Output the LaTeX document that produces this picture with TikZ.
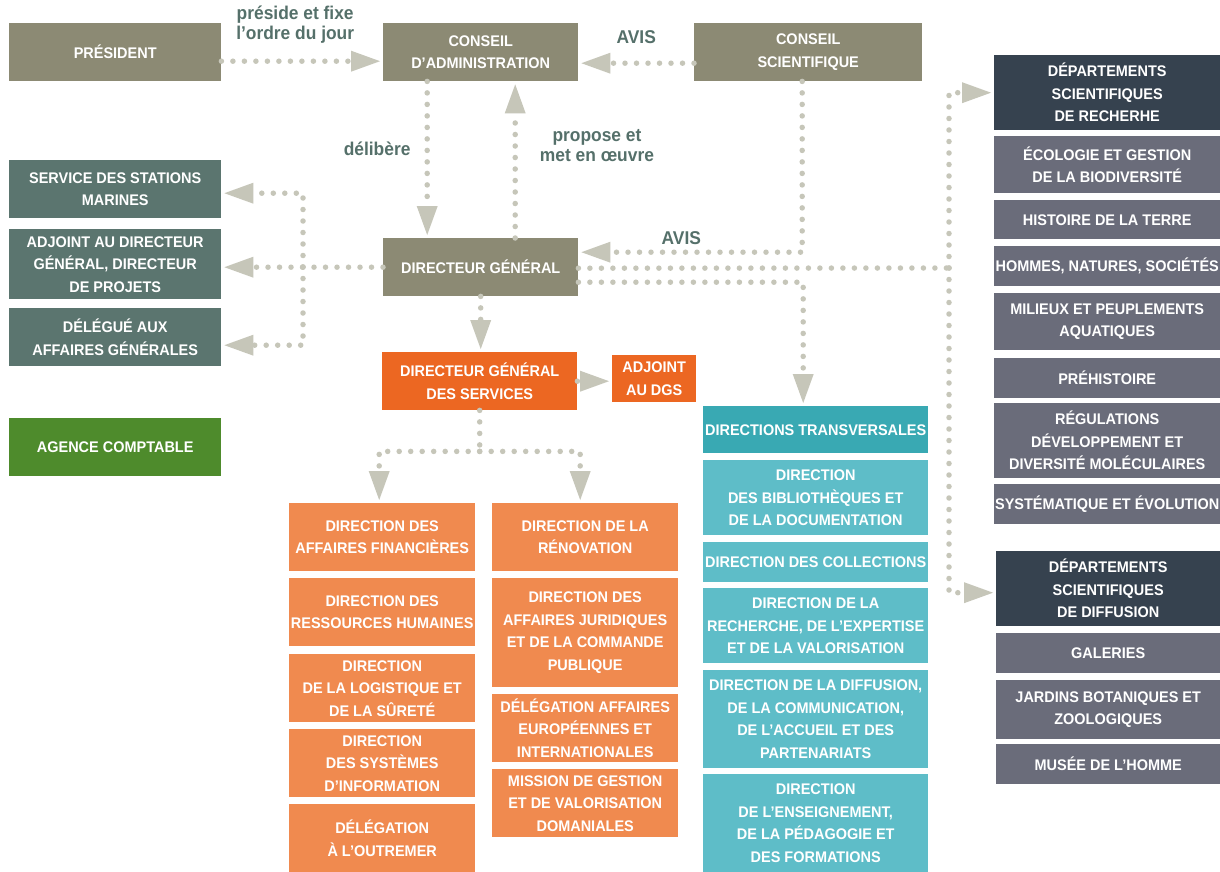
\documentclass[tikz,border=0pt]{standalone}
\usepackage{fontspec}
\setmainfont{Liberation Sans}[FakeStretch=0.94]
\usepackage{tikz}
\usetikzlibrary{arrows.meta,calc,positioning}

\definecolor{boxolive}{HTML}{8C8A74}
\definecolor{boxslate}{HTML}{5B756F}
\definecolor{boxgreen}{HTML}{4E8B2C}
\definecolor{boxorange}{HTML}{EC6722}
\definecolor{boxpeach}{HTML}{F08A4F}
\definecolor{boxteal}{HTML}{39A9B3}
\definecolor{boxcyan}{HTML}{5EBDC8}
\definecolor{boxnavy}{HTML}{36424F}
\definecolor{boxgray}{HTML}{6A6C7A}
\definecolor{linkgray}{HTML}{C6C6B9}
\definecolor{lbltext}{HTML}{55706A}

\begin{document}
\begin{tikzpicture}[x=1pt,y=-1pt,
    box/.style={anchor=north west, inner sep=0pt, align=center, text=white,
      font=\fontsize{15.4}{22.5}\selectfont\bfseries},
    lbl/.style={inner sep=1pt, align=center, text=lbltext,
      font=\fontsize{18.5}{20}\selectfont\bfseries},
    dots/.style={draw=linkgray, line width=5.5pt, line cap=round, dash pattern=on 0pt off 11.5pt},
    link/.style={dots, shorten >=3pt, -{Triangle[length=29pt,width=21pt,line width=0pt]}}]
  \useasboundingbox (0,0) rectangle (1220,872);
  \fill[white] (0,0) rectangle (1220,872);

  % top row
  \node[box, fill=boxolive, minimum width=212pt, minimum height=58pt] (pres) at (9,23) {PRÉSIDENT};
  \node[box, fill=boxolive, minimum width=195pt, minimum height=58pt] (ca) at (383,23) {CONSEIL\\D’ADMINISTRATION};
  \node[box, fill=boxolive, minimum width=228pt, minimum height=58pt] (cs) at (694,23) {CONSEIL\\SCIENTIFIQUE};
  \node[box, fill=boxolive, minimum width=195pt, minimum height=58pt] (dg) at (383,238) {DIRECTEUR GÉNÉRAL};

  % left column
  \node[box, fill=boxslate, minimum width=212pt, minimum height=58pt] (ssm) at (9,160) {SERVICE DES STATIONS\\MARINES};
  \node[box, fill=boxslate, minimum width=212pt, minimum height=70pt] (adg) at (9,229) {ADJOINT AU DIRECTEUR\\GÉNÉRAL, DIRECTEUR\\DE PROJETS};
  \node[box, fill=boxslate, minimum width=212pt, minimum height=58pt] (dag) at (9,308) {DÉLÉGUÉ AUX\\AFFAIRES GÉNÉRALES};
  \node[box, fill=boxgreen, minimum width=212pt, minimum height=58pt] (agc) at (9,418) {AGENCE COMPTABLE};

  % services
  \node[box, fill=boxorange, minimum width=195pt, minimum height=58pt] (dgs) at (382,352) {DIRECTEUR GÉNÉRAL\\DES SERVICES};
  \node[box, fill=boxorange, minimum width=84pt, minimum height=47pt] (adgs) at (612,355) {ADJOINT\\AU DGS};

  \node[box, fill=boxpeach, minimum width=186pt, minimum height=68pt] (daf) at (289,503) {DIRECTION DES\\AFFAIRES FINANCIÈRES};
  \node[box, fill=boxpeach, minimum width=186pt, minimum height=68pt] (drh) at (289,578) {DIRECTION DES\\RESSOURCES HUMAINES};
  \node[box, fill=boxpeach, minimum width=186pt, minimum height=68pt] (dls) at (289,654) {DIRECTION\\DE LA LOGISTIQUE ET\\DE LA SÛRETÉ};
  \node[box, fill=boxpeach, minimum width=186pt, minimum height=68pt] (dsi) at (289,729) {DIRECTION\\DES SYSTÈMES\\D’INFORMATION};
  \node[box, fill=boxpeach, minimum width=186pt, minimum height=68pt] (dom) at (289,804) {DÉLÉGATION\\À L’OUTREMER};

  \node[box, fill=boxpeach, minimum width=186pt, minimum height=68pt] (dren) at (492,503) {DIRECTION DE LA\\RÉNOVATION};
  \node[box, fill=boxpeach, minimum width=186pt, minimum height=109pt] (daj) at (492,578) {DIRECTION DES\\AFFAIRES JURIDIQUES\\ET DE LA COMMANDE\\PUBLIQUE};
  \node[box, fill=boxpeach, minimum width=186pt, minimum height=68pt] (daei) at (492,694) {DÉLÉGATION AFFAIRES\\EUROPÉENNES ET\\INTERNATIONALES};
  \node[box, fill=boxpeach, minimum width=186pt, minimum height=68pt] (mgvd) at (492,769) {MISSION DE GESTION\\ET DE VALORISATION\\DOMANIALES};

  % directions transversales
  \node[box, fill=boxteal, minimum width=225pt, minimum height=47pt] (dtr) at (703,406) {DIRECTIONS TRANSVERSALES};
  \node[box, fill=boxcyan, minimum width=225pt, minimum height=75pt] (dbd) at (703,460) {DIRECTION\\DES BIBLIOTHÈQUES ET\\DE LA DOCUMENTATION};
  \node[box, fill=boxcyan, minimum width=225pt, minimum height=40pt] (dco) at (703,542) {DIRECTION DES COLLECTIONS};
  \node[box, fill=boxcyan, minimum width=225pt, minimum height=75pt] (drev) at (703,588) {DIRECTION DE LA\\RECHERCHE, DE L’EXPERTISE\\ET DE LA VALORISATION};
  \node[box, fill=boxcyan, minimum width=225pt, minimum height=98pt] (ddc) at (703,670) {DIRECTION DE LA DIFFUSION,\\DE LA COMMUNICATION,\\DE L’ACCUEIL ET DES\\PARTENARIATS};
  \node[box, fill=boxcyan, minimum width=225pt, minimum height=98pt] (dens) at (703,774) {DIRECTION\\DE L’ENSEIGNEMENT,\\DE LA PÉDAGOGIE ET\\DES FORMATIONS};

  % departements
  \node[box, fill=boxnavy, minimum width=226pt, minimum height=75pt] (drech) at (994,55) {DÉPARTEMENTS\\SCIENTIFIQUES\\DE RECHERHE};
  \node[box, fill=boxgray, minimum width=226pt, minimum height=57pt] (ecol) at (994,136) {ÉCOLOGIE ET GESTION\\DE LA BIODIVERSITÉ};
  \node[box, fill=boxgray, minimum width=226pt, minimum height=39pt] (hist) at (994,200) {HISTOIRE DE LA TERRE};
  \node[box, fill=boxgray, minimum width=226pt, minimum height=40pt] (hns) at (994,246) {HOMMES, NATURES, SOCIÉTÉS};
  \node[box, fill=boxgray, minimum width=226pt, minimum height=57pt] (mpa) at (994,293) {MILIEUX ET PEUPLEMENTS\\AQUATIQUES};
  \node[box, fill=boxgray, minimum width=226pt, minimum height=40pt] (preh) at (994,358) {PRÉHISTOIRE};
  \node[box, fill=boxgray, minimum width=226pt, minimum height=75pt] (rddm) at (994,403) {RÉGULATIONS\\DÉVELOPPEMENT ET\\DIVERSITÉ MOLÉCULAIRES};
  \node[box, fill=boxgray, minimum width=226pt, minimum height=40pt] (syst) at (994,484) {SYSTÉMATIQUE ET ÉVOLUTION};

  \node[box, fill=boxnavy, minimum width=224pt, minimum height=75pt] (ddiff) at (996,551) {DÉPARTEMENTS\\SCIENTIFIQUES\\DE DIFFUSION};
  \node[box, fill=boxgray, minimum width=224pt, minimum height=40pt] (gal) at (996,633) {GALERIES};
  \node[box, fill=boxgray, minimum width=224pt, minimum height=59pt] (jbz) at (996,680) {JARDINS BOTANIQUES ET\\ZOOLOGIQUES};
  \node[box, fill=boxgray, minimum width=224pt, minimum height=40pt] (mdh) at (996,744) {MUSÉE DE L’HOMME};

  % connectors
  \draw[link] ([yshift=-9pt]pres.east) -- ([yshift=-9pt]ca.west)
    node[lbl, midway, above=14pt, xshift=-7pt] (lpres) {préside et fixe\\l’ordre du jour};
  \draw[link] ([yshift=-11pt]cs.west) -- ([yshift=-11pt]ca.east)
    node[lbl, midway, above=16pt] (lavis) {AVIS};
  \draw[link] ([xshift=-53.5pt]ca.south) -- ([xshift=-53.5pt]dg.north)
    node[lbl, pos=0.43, left=13pt] (ldel) {délibère};
  \draw[link] ([xshift=34.5pt]dg.north) -- ([xshift=34.5pt]ca.south)
    node[lbl, pos=0.59, right=21pt] (lprop) {propose et\\met en œuvre};
  \draw[link] ([xshift=-6pt]cs.south) |- ([yshift=15pt]dg.east)
    node[lbl, pos=0.77, above=4pt] (lavis2) {AVIS};

  \coordinate (hub) at (303,267);
  \draw[link] (dg.west) -- (dg.west -| adg.east);
  \draw[link] (hub) |- ([yshift=-4pt]ssm.east);
  \draw[link] (hub) |- ([yshift=-8pt]dag.east);

  \draw[link] (dg.south) -- (dg.south |- dgs.north);
  \draw[link] (dgs.east) -- (dgs.east -| adgs.west);

  \coordinate (fork) at ($(dgs.south)+(0,41)$);
  \draw[dots] (dgs.south) -- (fork);
  \draw[link] (fork) -| ([xshift=-3pt]daf.north);
  \draw[link] (fork) -| ([xshift=-5pt]dren.north);

  \coordinate (rhub) at (949,268);
  \draw[dots] ([yshift=-1pt]dg.east) -- (rhub);
  \draw[link] (rhub) |- (drech.west);
  \draw[link] (rhub) |- ([yshift=-4pt]ddiff.west);
  \draw[link] ([yshift=-15pt]dg.east) -| ([xshift=-12.5pt]dtr.north);
\end{tikzpicture}
\end{document}
